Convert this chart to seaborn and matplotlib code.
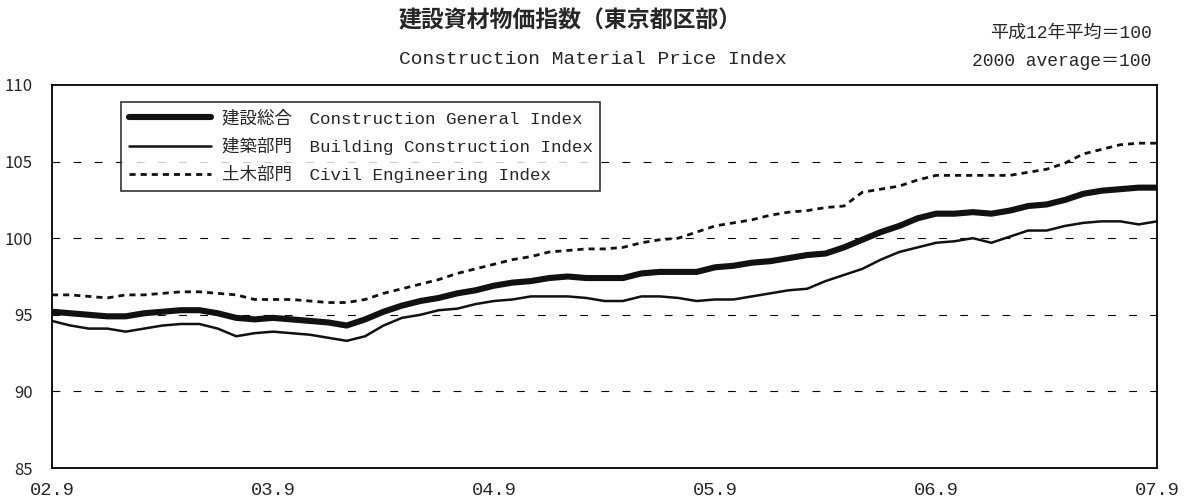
import numpy as np
import pandas as pd
import matplotlib
matplotlib.use("Agg")
import matplotlib.pyplot as plt
import seaborn as sns

# monthly, 2002.9 .. 2007.9 (61 points)
general = [95.2, 95.1, 95.0, 94.9, 94.9, 95.1, 95.2, 95.3, 95.3, 95.1, 94.8, 94.7,
           94.8, 94.7, 94.6, 94.5, 94.3, 94.7, 95.2, 95.6, 95.9, 96.1, 96.4, 96.6,
           96.9, 97.1, 97.2, 97.4, 97.5, 97.4, 97.4, 97.4, 97.7, 97.8, 97.8, 97.8,
           98.1, 98.2, 98.4, 98.5, 98.7, 98.9, 99.0, 99.4, 99.9, 100.4, 100.8, 101.3,
           101.6, 101.6, 101.7, 101.6, 101.8, 102.1, 102.2, 102.5, 102.9, 103.1, 103.2, 103.3,
           103.3]
building = [94.6, 94.3, 94.1, 94.1, 93.9, 94.1, 94.3, 94.4, 94.4, 94.1, 93.6, 93.8,
            93.9, 93.8, 93.7, 93.5, 93.3, 93.6, 94.3, 94.8, 95.0, 95.3, 95.4, 95.7,
            95.9, 96.0, 96.2, 96.2, 96.2, 96.1, 95.9, 95.9, 96.2, 96.2, 96.1, 95.9,
            96.0, 96.0, 96.2, 96.4, 96.6, 96.7, 97.2, 97.6, 98.0, 98.6, 99.1, 99.4,
            99.7, 99.8, 100.0, 99.7, 100.1, 100.5, 100.5, 100.8, 101.0, 101.1, 101.1, 100.9,
            101.1]
civil = [96.3, 96.3, 96.2, 96.1, 96.3, 96.3, 96.4, 96.5, 96.5, 96.4, 96.3, 96.0,
         96.0, 96.0, 95.9, 95.8, 95.8, 96.0, 96.4, 96.7, 97.0, 97.3, 97.7, 98.0,
         98.3, 98.6, 98.8, 99.1, 99.2, 99.3, 99.3, 99.4, 99.7, 99.9, 100.0, 100.4,
         100.8, 101.0, 101.2, 101.5, 101.7, 101.8, 102.0, 102.1, 103.0, 103.2, 103.4, 103.8,
         104.1, 104.1, 104.1, 104.1, 104.1, 104.3, 104.5, 104.9, 105.5, 105.8, 106.1, 106.2,
         106.2]
year_labels = ["02.9", "03.9", "04.9", "05.9", "06.9", "07.9"]
series_labels = ["建設総合　Construction General Index",
                 "建築部門　Building Construction Index",
                 "土木部門　Civil Engineering Index"]

df = pd.DataFrame({"month": np.arange(len(general)),
                   "general": general, "building": building, "civil": civil})

sns.set_style("white")
plt.rcParams["font.family"] = ["Noto Sans CJK JP", "DejaVu Sans"]
# latin text in the reference is a fixed-width gothic, so use a mono face with CJK fallback
mono = ["Liberation Mono", "Noto Sans CJK JP"]

fig = plt.figure(figsize=(11.87, 5.04), dpi=100)
ax = fig.add_axes([0.0438, 0.0714, 0.931, 0.760])

for y in [90, 95, 100, 105]:
    ax.axhline(y, color="black", lw=0.8, dashes=(7, 12), zorder=0)

sns.lineplot(data=df, x="month", y="general", ax=ax, color="#111111", lw=4.4,
             label=series_labels[0])
sns.lineplot(data=df, x="month", y="building", ax=ax, color="#111111", lw=1.8,
             label=series_labels[1])
sns.lineplot(data=df, x="month", y="civil", ax=ax, color="#111111", lw=2.0,
             dashes=(2.2, 1.8), label=series_labels[2])

ax.set_xlim(0, len(general) - 1)
ax.set_ylim(85, 110)
ax.set_xlabel("")
ax.set_ylabel("")
ax.set_xticks(np.arange(0, len(general), 12))
ax.set_xticklabels(year_labels, fontsize=13.5, family=mono)
ax.set_xticks(np.arange(len(general)), minor=True)
ax.set_yticks([85, 90, 95, 100, 105, 110])
ax.tick_params(axis="x", which="major", direction="in", length=14, width=1.2, pad=10)
ax.tick_params(axis="x", which="minor", direction="in", length=6, width=1.2)
ax.tick_params(axis="y", direction="in", length=3, width=1.2, labelsize=12, pad=14)
for sp in ax.spines.values():
    sp.set_color("black")
    sp.set_linewidth(1.3)

leg = ax.legend(loc="upper left", bbox_to_anchor=(0.0624, 0.956), frameon=True,
                fancybox=False, prop={"family": mono, "size": 12.6},
                handlelength=4.7, handletextpad=0.6,
                borderpad=0.45, labelspacing=0.6, borderaxespad=0)
leg.get_frame().set_edgecolor("black")
leg.get_frame().set_linewidth(1.2)

fig.text(0.336, 0.958, "建設資材物価指数（東京都区部）", ha="left", va="center",
         fontsize=16.5, fontweight="bold")
fig.text(0.336, 0.882, "Construction Material Price Index", ha="left", va="center",
         fontsize=14, family=mono)
fig.text(0.97, 0.935, "平成12年平均＝100", ha="right", va="center", fontsize=13, family=mono)
fig.text(0.97, 0.877, "2000 average＝100", ha="right", va="center", fontsize=13, family=mono)

fig.savefig("out.png", dpi=100)
